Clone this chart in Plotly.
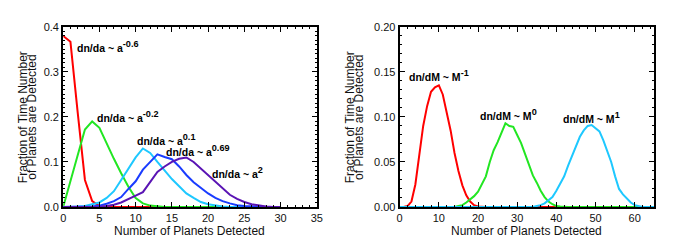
import plotly.graph_objects as go

W, H = 681, 252

# ---- Left panel data (dn/da ~ a^k) ----
x_left = list(range(0, 31))
red_a = [0.38, 0.367, 0.21, 0.06, 0.013, 0.002, 0, 0, 0, 0, 0, 0, 0, 0, 0, 0, 0, 0, 0, 0, 0, 0, 0, 0, 0, 0, 0, 0, 0, 0, 0]
green_a = [0.0, 0.055, 0.115, 0.172, 0.19, 0.176, 0.14, 0.107, 0.075, 0.045, 0.02, 0.008, 0.003, 0.001, 0, 0, 0, 0, 0, 0, 0, 0, 0, 0, 0, 0, 0, 0, 0, 0, 0]
cyan_a = [0, 0, 0.001, 0.002, 0.006, 0.01, 0.02, 0.035, 0.06, 0.085, 0.11, 0.13, 0.12, 0.1, 0.08, 0.062, 0.046, 0.03, 0.02, 0.011, 0.006, 0.003, 0.001, 0, 0, 0, 0, 0, 0, 0, 0]
blue_a = [0, 0, 0, 0, 0.001, 0.003, 0.007, 0.013, 0.022, 0.04, 0.057, 0.083, 0.1, 0.117, 0.111, 0.106, 0.09, 0.071, 0.055, 0.042, 0.03, 0.02, 0.013, 0.008, 0.004, 0.002, 0.001, 0, 0, 0, 0]
purple_a = [0, 0, 0, 0, 0, 0, 0.002, 0.005, 0.01, 0.017, 0.025, 0.033, 0.055, 0.078, 0.09, 0.1, 0.107, 0.11, 0.1, 0.085, 0.07, 0.055, 0.04, 0.027, 0.018, 0.011, 0.006, 0.003, 0.001, 0, 0]

# ---- Right panel data (dn/dM ~ M^k) ----
x_right = list(range(0, 66))
red_m = [0, 0, 0.001, 0.006, 0.025, 0.055, 0.09, 0.112, 0.128, 0.133, 0.135, 0.125, 0.105, 0.085, 0.06, 0.04, 0.024, 0.013, 0.006, 0.002, 0.0005] + [0] * 45
green_m = [0] * 15 + [0.001, 0.002, 0.005, 0.008, 0.012, 0.017, 0.025, 0.034, 0.05, 0.063, 0.072, 0.082, 0.093, 0.09, 0.089, 0.08, 0.071, 0.059, 0.047, 0.035, 0.027, 0.018, 0.011, 0.006, 0.003, 0.001, 0.0005] + [0] * 24
cyan_m = [0] * 35 + [0.001, 0.002, 0.004, 0.007, 0.011, 0.018, 0.026, 0.034, 0.046, 0.057, 0.068, 0.078, 0.085, 0.09, 0.091, 0.088, 0.084, 0.074, 0.063, 0.05, 0.034, 0.02, 0.014, 0.009, 0.005, 0.002, 0.001] + [0] * 4

left_series = [(red_a, "#ff0000"), (green_a, "#22e622"), (cyan_a, "#1ec8ff"), (blue_a, "#1a3cff"), (purple_a, "#5a14b4")]
right_series = [(red_m, "#ff0000"), (green_m, "#22e622"), (cyan_m, "#1ec8ff")]

left_labels = [
    (1.6, 0.356, "dn/da ~ a", "-0.6"),
    (4.45, 0.200, "dn/da ~ a", "-0.2"),
    (9.9, 0.150, "dn/da ~ a", "0.1"),
    (13.9, 0.125, "dn/da ~ a", "0.69"),
    (20.2, 0.077, "dn/da ~ a", "2"),
]
right_labels = [
    (1.9, 0.146, "dn/dM ~ M", "-1"),
    (19.9, 0.103, "dn/dM ~ M", "0"),
    (41.2, 0.099, "dn/dM ~ M", "1"),
]

x_title = "Number of Planets Detected"
y_title_lines = ["Fraction of Time Number", "of Planets are Detected"]

fig = go.Figure()
for ys, c in left_series:
    fig.add_trace(go.Scatter(x=x_left, y=ys, mode="lines", line=dict(color=c, width=2),
                             xaxis="x", yaxis="y", showlegend=False, cliponaxis=True))
for ys, c in right_series:
    fig.add_trace(go.Scatter(x=x_right, y=ys, mode="lines", line=dict(color=c, width=2),
                             xaxis="x2", yaxis="y2", showlegend=False, cliponaxis=True))

# plot frames in pixels
L = (61, 318)
R = (402, 660)
TOP, BOT = 22, 211
ydom = [1 - BOT / H, 1 - TOP / H]

font_tick = dict(family="Liberation Sans, Arial, sans-serif", size=11, color="#111111")
common = dict(showline=True, linecolor="black", linewidth=2, mirror="allticks",
              ticks="inside", ticklen=5, tickwidth=1, tickcolor="black",
              showgrid=False, zeroline=False, tickfont=font_tick)

fig.update_layout(
    width=W, height=H, margin=dict(l=0, r=0, t=0, b=0),
    paper_bgcolor="white", plot_bgcolor="white",
    xaxis=dict(domain=[L[0] / W, L[1] / W], range=[0, 35], tick0=0, dtick=5, anchor="y",
               minor=dict(ticks="inside", ticklen=2, dtick=1, tickcolor="black"), **common),
    yaxis=dict(domain=ydom, range=[0, 0.4], tick0=0, dtick=0.1, tickformat=".1f", anchor="x",
               minor=dict(ticks="inside", ticklen=2, dtick=0.01, tickcolor="black"), **common),
    xaxis2=dict(domain=[R[0] / W, R[1] / W], range=[0, 65], tick0=0, dtick=10, anchor="y2",
                minor=dict(ticks="inside", ticklen=2, dtick=2, tickcolor="black"), **common),
    yaxis2=dict(domain=ydom, range=[0, 0.2], tick0=0, dtick=0.05, tickformat=".2f", anchor="x2",
                minor=dict(ticks="inside", ticklen=2, dtick=0.01, tickcolor="black"), **common),
)

ann_font = dict(family="Liberation Sans, Arial, sans-serif", size=10.5, color="black")


def label_text(base, sup):
    return ("<b>" + base + "<span style='font-size:13px'><sup>" + sup + "</sup></span></b>")


for x, y, b, s in left_labels:
    fig.add_annotation(x=x, y=y, xref="x", yref="y", text=label_text(b, s), showarrow=False,
                       xanchor="left", yanchor="middle", font=ann_font)
for x, y, b, s in right_labels:
    fig.add_annotation(x=x, y=y, xref="x2", yref="y2", text=label_text(b, s), showarrow=False,
                       xanchor="left", yanchor="middle", font=ann_font)

title_font = dict(family="Liberation Sans, Arial, sans-serif", size=12, color="#111111")
for cx in [(L[0] + L[1]) / 2, (R[0] + R[1]) / 2]:
    fig.add_annotation(x=cx / W, y=1 - 236 / H, xref="paper", yref="paper", text=x_title,
                       showarrow=False, xanchor="center", yanchor="middle", font=title_font)
cy = 1 - ((TOP + BOT) / 2) / H
for x0 in [20.5, 352.0]:
    for i, line in enumerate(y_title_lines):
        fig.add_annotation(x=(x0 + i * 8.7) / W, y=cy, xref="paper", yref="paper", text=line,
                           textangle=-90, showarrow=False, xanchor="center", yanchor="middle",
                           font=title_font)

fig.write_html("out.html", config={"displayModeBar": False},
               post_script="document.body.style.margin='0';document.body.style.overflow='hidden';")
